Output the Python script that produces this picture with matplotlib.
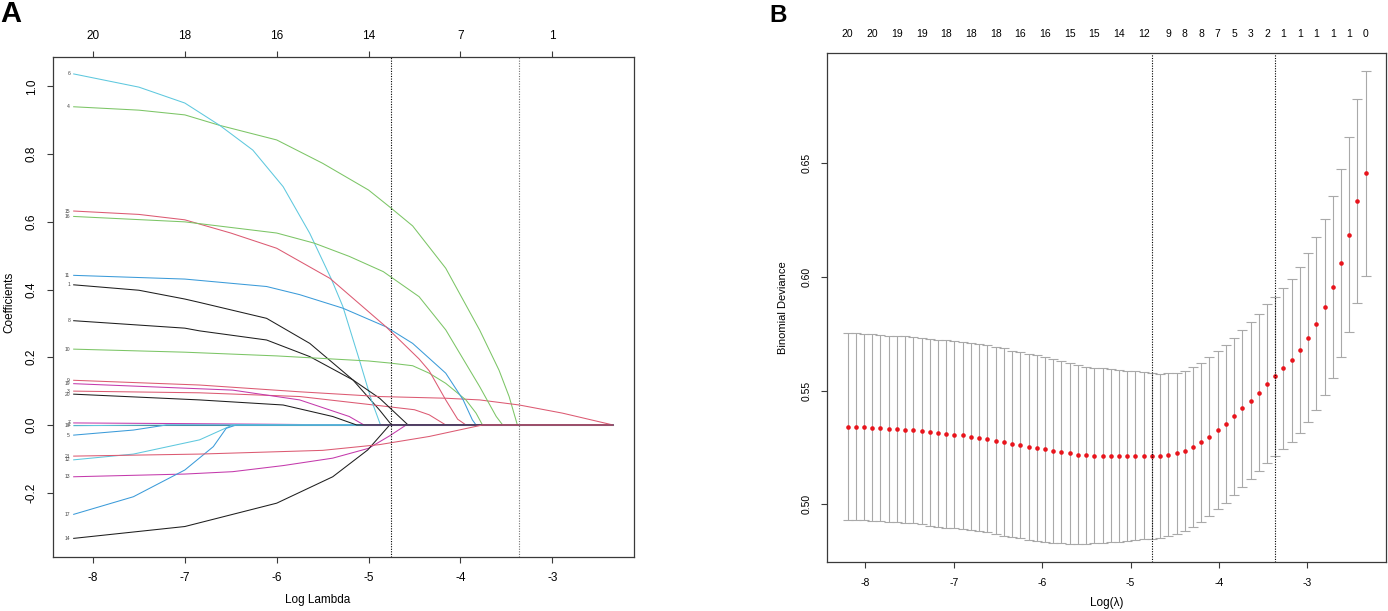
"""LASSO figure: (A) coefficient paths vs log lambda, (B) 10-fold CV binomial
deviance with +/- 1 SE bars. Values read off the published figure."""
import numpy as np
import matplotlib
matplotlib.use("Agg")
import matplotlib.pyplot as plt

plt.rcParams["font.family"] = ["Liberation Sans", "DejaVu Sans"]
plt.rcParams["axes.unicode_minus"] = False

# ---------------------------------------------------------------- panel A
# coefficient paths: (log lambda, coefficient) for each variable
P1 = [(-8.21, 0.414), (-7.5, 0.398), (-7.0, 0.372), (-6.84, 0.362), (-6.11, 0.315),
      (-5.64, 0.241), (-5.17, 0.133), (-4.88, 0.044), (-4.75, 0.0)]
P2 = [(-8.21, 0.0)]
P3 = [(-8.21, 0.100), (-6.84, 0.095), (-5.75, 0.084), (-4.88, 0.057), (-4.50, 0.045),
      (-4.34, 0.030), (-4.16, 0.0)]
P4 = [(-8.21, 0.940), (-7.5, 0.930), (-7.0, 0.916), (-6.62, 0.885), (-6.0, 0.842),
      (-5.5, 0.773), (-5.0, 0.694), (-4.77, 0.644), (-4.52, 0.588), (-4.16, 0.463),
      (-3.79, 0.280), (-3.58, 0.162), (-3.47, 0.084), (-3.38, 0.0)]
P5 = [(-8.21, -0.030), (-7.56, -0.015), (-7.2, 0.0)]
P6 = [(-8.21, 1.037), (-7.5, 0.998), (-7.0, 0.951), (-6.62, 0.885), (-6.26, 0.812),
      (-5.93, 0.704), (-5.64, 0.566), (-5.405, 0.431), (-5.28, 0.350), (-5.10, 0.192),
      (-4.97, 0.074), (-4.87, 0.0)]
P7 = [(-8.21, 0.006), (-7.0, 0.004), (-6.0, 0.002), (-5.2, 0.0)]
P8 = [(-8.21, 0.308), (-7.0, 0.286), (-6.84, 0.278), (-6.11, 0.251), (-5.64, 0.202),
      (-5.17, 0.133), (-4.88, 0.079), (-4.57, 0.0)]
P9 = [(-8.21, 0.132), (-6.84, 0.118), (-5.75, 0.098), (-4.88, 0.084), (-4.16, 0.079),
      (-3.79, 0.074), (-3.36, 0.059), (-2.89, 0.035), (-2.34, 0.0)]
P10 = [(-8.21, 0.224), (-7.0, 0.215), (-6.0, 0.204), (-5.0, 0.189), (-4.77, 0.183),
       (-4.52, 0.175), (-4.34, 0.153), (-4.16, 0.123), (-3.94, 0.074), (-3.83, 0.035),
       (-3.76, 0.0)]
P11 = [(-8.21, 0.442), (-7.0, 0.431), (-6.11, 0.409), (-5.75, 0.385), (-5.28, 0.345),
       (-4.81, 0.290), (-4.52, 0.241), (-4.16, 0.153), (-3.97, 0.074), (-3.87, 0.015),
       (-3.83, 0.0)]
P12 = [(-8.21, -0.103), (-7.56, -0.086), (-6.84, -0.044), (-6.48, 0.0)]
P13 = [(-8.21, -0.153), (-7.0, -0.145), (-6.48, -0.138), (-5.93, -0.120), (-5.39, -0.098),
       (-5.0, -0.069), (-4.77, -0.032), (-4.59, 0.0)]
P14 = [(-8.21, -0.335), (-7.0, -0.300), (-6.0, -0.231), (-5.39, -0.153), (-5.01, -0.074),
       (-4.77, 0.0)]
P15 = [(-8.21, 0.632), (-7.5, 0.622), (-7.0, 0.606), (-6.5, 0.567), (-6.0, 0.522),
       (-5.42, 0.433), (-4.81, 0.290), (-4.45, 0.195), (-4.34, 0.160), (-4.16, 0.074),
       (-4.03, 0.017), (-3.94, 0.0)]
P16 = [(-8.21, 0.616), (-7.0, 0.600), (-6.0, 0.567), (-5.59, 0.537), (-5.21, 0.498),
       (-4.84, 0.453), (-4.45, 0.379), (-4.16, 0.281), (-3.79, 0.113), (-3.61, 0.025),
       (-3.54, 0.0)]
P17 = [(-8.21, -0.264), (-7.56, -0.212), (-7.0, -0.133), (-6.69, -0.064), (-6.55, -0.010),
       (-6.44, 0.0)]
P18 = [(-8.21, -0.002), (-7.0, 0.0)]
P19 = [(-8.21, 0.122), (-6.48, 0.103), (-5.75, 0.074), (-5.21, 0.025), (-5.05, 0.0)]
P20 = [(-8.21, 0.091), (-6.84, 0.074), (-5.93, 0.059), (-5.39, 0.025), (-5.13, 0.0)]
P21 = [(-8.21, -0.092), (-6.84, -0.086), (-5.5, -0.075), (-4.88, -0.058), (-4.34, -0.034),
       (-3.76, 0.0)]
PATHS = [P1, P2, P3, P4, P5, P6, P7, P8, P9, P10, P11, P12, P13, P14, P15, P16, P17,
         P18, P19, P20, P21]

TOP_A_AT = [-8, -7, -6, -5, -4, -3]
TOP_A_LAB = ["20", "18", "16", "14", "7", "1"]

# ---------------------------------------------------------------- panel B
LOG_LAMBDA = np.linspace(-8.20, -2.34, 64)      # glmnet lambda grid (log-uniform)
CVM = [0.5341, 0.5341, 0.5339, 0.5336, 0.5335, 0.5332, 0.5331, 0.5328, 0.5325, 0.5322,
       0.5316, 0.5311, 0.5309, 0.5306, 0.5303, 0.5297, 0.5292, 0.5288, 0.5279, 0.5273,
       0.5265, 0.5259, 0.5253, 0.5248, 0.5241, 0.5234, 0.5229, 0.5223, 0.5218, 0.5215,
       0.5213, 0.5213, 0.5213, 0.5213, 0.5213, 0.5213, 0.5213, 0.5213, 0.5213, 0.5218,
       0.5223, 0.5235, 0.5251, 0.5272, 0.5297, 0.5325, 0.5354, 0.5386, 0.5422, 0.5455,
       0.5490, 0.5530, 0.5562, 0.5598, 0.5634, 0.5680, 0.5733, 0.5794, 0.5869, 0.5957,
       0.6061, 0.6186, 0.6336, 0.6456]
CVSD = [0.0412, 0.0412, 0.0411, 0.0411, 0.0411, 0.0410, 0.0410, 0.0410, 0.0410, 0.0410,
        0.0411, 0.0412, 0.0412, 0.0412, 0.0412, 0.0412, 0.0412, 0.0412, 0.0412, 0.0412,
        0.0411, 0.0410, 0.0409, 0.0409, 0.0407, 0.0404, 0.0402, 0.0398, 0.0393, 0.0390,
        0.0386, 0.0384, 0.0381, 0.0378, 0.0374, 0.0371, 0.0368, 0.0365, 0.0361, 0.0359,
        0.0356, 0.0353, 0.0352, 0.0351, 0.0350, 0.0348, 0.0347, 0.0347, 0.0346, 0.0346,
        0.0346, 0.0349, 0.0351, 0.0355, 0.0359, 0.0365, 0.0372, 0.0380, 0.0387, 0.0401,
        0.0413, 0.0429, 0.0449, 0.0450]
TOP_B_IDX = [0, 3, 6, 9, 12, 15, 18, 21, 24, 27, 30, 33, 36,
             39, 41, 43, 45, 47, 49, 51, 53, 55, 57, 59, 61, 63]
TOP_B_LAB = ["20", "20", "19", "19", "18", "18", "18", "16", "16", "15", "15", "14", "12",
             "9", "8", "8", "7", "5", "3", "2", "1", "1", "1", "1", "1", "0"]
I_MIN, I_1SE = 37, 52

# R 4.x default palette, muted a little to match the printed figure
BLACK, RED, GREEN, BLUE, CYAN, MAGENTA = ("#1e1e1e", "#dc5a72", "#7cc566",
                                          "#3b9bd9", "#5ec8de", "#c43aac")
CYCLE = [BLACK, RED, GREEN, BLUE, CYAN, MAGENTA]
COLOURS = [BLACK] + [CYCLE[(k - 2) % 6] for k in range(2, 22)]

FRAME = "#3a3a3a"


def style_axes(ax, size):
    for sp in ax.spines.values():
        sp.set_color(FRAME)
        sp.set_linewidth(0.9)
    ax.tick_params(direction="out", length=4.5, width=0.8, color=FRAME,
                   labelsize=size, pad=6.5)
    ax.tick_params(axis="y", labelrotation=90)
    for lab in ax.get_yticklabels():
        lab.set_va("center")


fig = plt.figure(figsize=(13.88, 6.11), dpi=100)

# ---- A
axA = fig.add_axes([0.0382, 0.0884, 0.4186, 0.8183])
x_end = LOG_LAMBDA[-1]
for k, (path, col) in enumerate(zip(PATHS, COLOURS), start=1):
    xs = [p[0] for p in path] + [x_end]
    ys = [p[1] for p in path] + [0.0]
    axA.plot(xs, ys, color=col, lw=0.75, solid_joinstyle="round")
    axA.text(-8.25, path[0][1], str(k), fontsize=3.6, ha="right", va="center",
             color="#444444")
axA.axvline(LOG_LAMBDA[I_MIN], color="black", lw=0.8, ls=(0, (1, 1.3)))
axA.axvline(LOG_LAMBDA[I_1SE], color="0.45", lw=0.8, ls=(0, (1, 1.3)))
axA.set_xlim(-8.435, -2.11)
axA.set_ylim(-0.39, 1.087)
axA.set_xticks([-8, -7, -6, -5, -4, -3])
axA.set_yticks([-0.2, 0.0, 0.2, 0.4, 0.6, 0.8, 1.0])
axA.set_yticklabels(["-0.2", "0.0", "0.2", "0.4", "0.6", "0.8", "1.0"])
style_axes(axA, 8.5)
topA = axA.secondary_xaxis("top")
topA.set_xticks(TOP_A_AT, labels=TOP_A_LAB)
topA.tick_params(direction="out", length=4.5, width=0.8, color=FRAME,
                 labelsize=8.5, pad=6.5)
topA.spines["top"].set_visible(False)

fig.text(0.229, 0.018, "Log Lambda", fontsize=8.5, ha="center", va="center")
fig.text(0.0065, 0.505, "Coefficients", fontsize=8.5, rotation=90,
         ha="center", va="center")
fig.text(0.0, 0.977, "A", fontsize=21, fontweight="bold", ha="left", va="center")

# ---- B
axB = fig.add_axes([0.5956, 0.0794, 0.4030, 0.8343])
axB.errorbar(LOG_LAMBDA, CVM, yerr=CVSD, fmt="none", ecolor="#a9a9a9",
             elinewidth=0.8, capsize=3.3, capthick=0.8)
axB.plot(LOG_LAMBDA, CVM, "o", color="#e8141c", ms=3.3, mew=0)
for i in (I_MIN, I_1SE):
    axB.axvline(LOG_LAMBDA[i], color="black", lw=0.8, ls=(0, (1, 1.3)))
axB.set_xlim(-8.436, -2.11)
axB.set_ylim(0.4743, 0.6987)
axB.set_xticks([-8, -7, -6, -5, -4, -3])
axB.set_yticks([0.50, 0.55, 0.60, 0.65])
axB.set_yticklabels(["0.50", "0.55", "0.60", "0.65"])
style_axes(axB, 7.5)
topB = axB.secondary_xaxis("top")
topB.set_xticks([LOG_LAMBDA[i] for i in TOP_B_IDX], labels=TOP_B_LAB)
topB.tick_params(length=0, labelsize=7.5, pad=10)
topB.spines["top"].set_visible(False)

fig.text(0.7976, 0.013, "Log(\u03bb)", fontsize=8.5, ha="center", va="center")
fig.text(0.564, 0.496, "Binomial Deviance", fontsize=8, rotation=90,
         ha="center", va="center")
fig.text(0.5545, 0.975, "B", fontsize=17.5, fontweight="bold", ha="left", va="center")

fig.savefig("out.png", dpi=100)
